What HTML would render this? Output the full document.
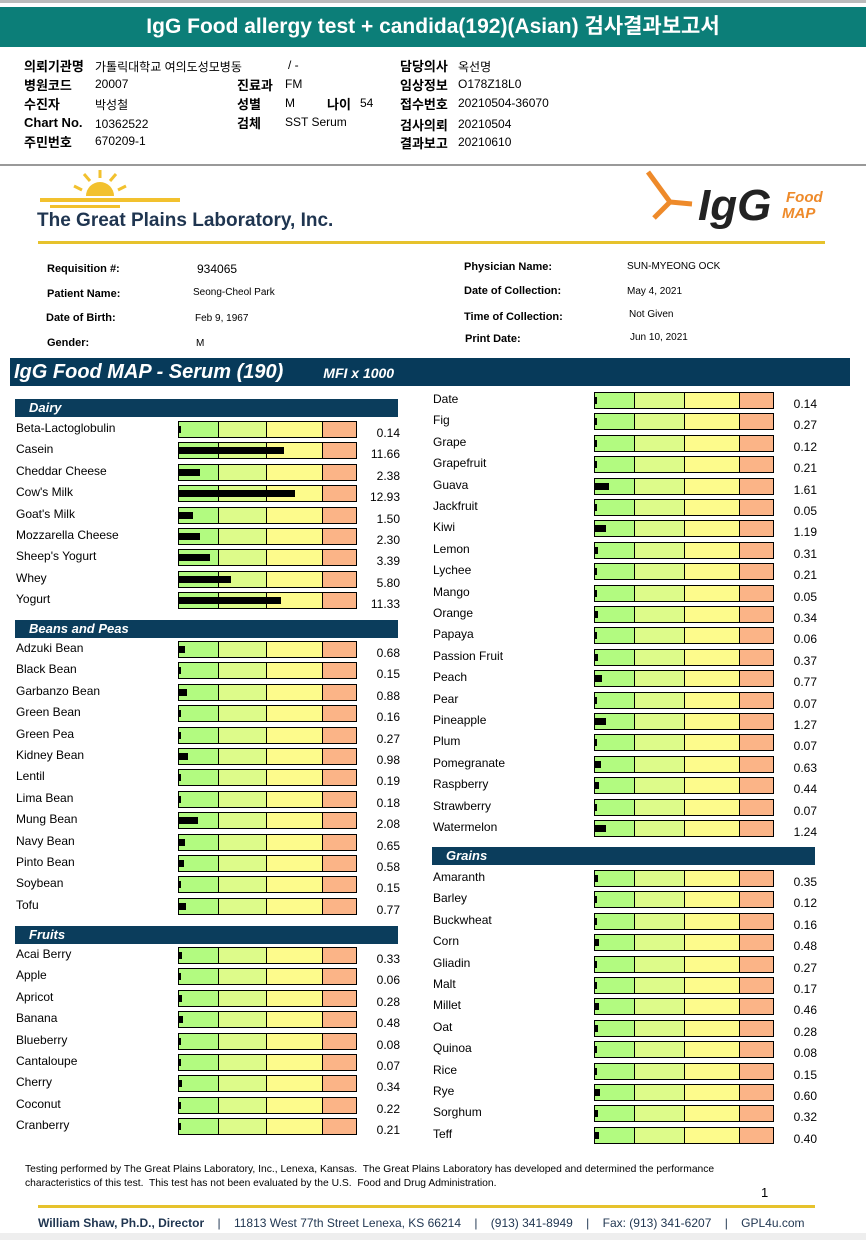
<!DOCTYPE html>
<html><head><meta charset="utf-8">
<style>
body{margin:0;width:866px;height:1240px;position:relative;background:#fff;font-family:"Liberation Sans","Noto Sans CJK KR",sans-serif;overflow:hidden}
.a{position:absolute;white-space:nowrap}
.k{font-weight:bold;font-size:13px}
.v{font-size:12px}
.pi{font-size:11px}
.sec{position:absolute;height:18px;background:#0b3d5c;color:#fff;font-weight:bold;font-style:italic;font-size:13px;line-height:18px;padding-left:14px;box-sizing:border-box}
.lbl{position:absolute;font-size:12px;color:#000;white-space:nowrap}
.val{position:absolute;font-size:12px;text-align:right;width:50px}
.bar{position:absolute;height:17px;border:1px solid #000;box-sizing:border-box;display:flex}
.bar div{height:100%;border-right:1px solid #000;box-sizing:border-box}
.fill{position:absolute;height:7px;background:#000}
</style></head><body>
<div class="a" style="left:0;top:0;width:866px;height:3px;background:#bbb"></div>
<div class="a" style="left:0;top:7px;width:866px;height:40px;background:#0c7e78;color:#fff;font-size:21px;font-weight:bold;text-align:center;line-height:40px">IgG Food allergy test + candida(192)(Asian) 검사결과보고서</div>
<div>
<div class="a k" style="left:24px;top:56px">의뢰기관명</div><div class="a v" style="left:95px;top:58px">가톨릭대학교 여의도성모병동</div><div class="a v" style="left:288px;top:58px">/ -</div>
<div class="a k" style="left:400px;top:56px">담당의사</div><div class="a v" style="left:458px;top:58px">옥선명</div>
<div class="a k" style="left:24px;top:75px">병원코드</div><div class="a v" style="left:95px;top:77px">20007</div>
<div class="a k" style="left:237px;top:75px">진료과</div><div class="a v" style="left:285px;top:77px">FM</div>
<div class="a k" style="left:400px;top:75px">임상정보</div><div class="a v" style="left:458px;top:77px">O178Z18L0</div>
<div class="a k" style="left:24px;top:94px">수진자</div><div class="a v" style="left:95px;top:96px">박성철</div>
<div class="a k" style="left:237px;top:94px">성별</div><div class="a v" style="left:285px;top:96px">M</div>
<div class="a k" style="left:327px;top:94px">나이</div><div class="a v" style="left:360px;top:96px">54</div>
<div class="a k" style="left:400px;top:94px">접수번호</div><div class="a v" style="left:458px;top:96px">20210504-36070</div>
<div class="a k" style="left:24px;top:115px">Chart No.</div><div class="a v" style="left:95px;top:117px">10362522</div>
<div class="a k" style="left:237px;top:113px">검체</div><div class="a v" style="left:285px;top:115px">SST Serum</div>
<div class="a k" style="left:400px;top:115px">검사의뢰</div><div class="a v" style="left:458px;top:117px">20210504</div>
<div class="a k" style="left:24px;top:132px">주민번호</div><div class="a v" style="left:95px;top:134px">670209-1</div>
<div class="a k" style="left:400px;top:133px">결과보고</div><div class="a v" style="left:458px;top:135px">20210610</div>
</div>
<div class="a" style="left:0;top:164px;width:866px;height:2px;background:#999"></div>
<svg class="a" style="left:36px;top:168px" width="150" height="42">
<path d="M50 28 A14 14 0 0 1 78 28 Z" fill="#f2c12e"/>
<g stroke="#f2c12e" stroke-width="3"><line x1="64" y1="10" x2="64" y2="2"/><line x1="54" y1="13" x2="48" y2="6"/><line x1="74" y1="13" x2="80" y2="6"/><line x1="46" y1="22" x2="38" y2="18"/><line x1="82" y1="22" x2="90" y2="18"/></g>
<rect x="4" y="30" width="140" height="4" fill="#f2c12e"/><rect x="14" y="37" width="70" height="3" fill="#f2c12e"/>
</svg>
<div class="a" style="left:37px;top:210px;font-size:19px;font-weight:bold;color:#1f3550">The Great Plains Laboratory, Inc.</div>
<svg class="a" style="left:640px;top:168px" width="190" height="62">
<path d="M8 4 L30 34 L52 36 M30 34 L14 50" stroke="#ee8a2a" stroke-width="5" fill="none"/>
<text x="58" y="52" font-family="Liberation Sans" font-weight="bold" font-style="italic" font-size="44" fill="#222">IgG</text>
<text x="146" y="34" font-family="Liberation Sans" font-weight="bold" font-style="italic" font-size="15" fill="#ee8a2a">Food</text>
<text x="142" y="50" font-family="Liberation Sans" font-weight="bold" font-style="italic" font-size="15" fill="#ee8a2a">MAP</text>
</svg>
<div class="a" style="left:38px;top:241px;width:787px;height:3px;background:#e6c22c"></div>
<div>
<div class="a pi" style="left:47px;top:263px;font-weight:bold">Requisition #:</div><div class="a" style="left:197px;top:262px;font-size:12px">934065</div>
<div class="a pi" style="left:47px;top:288px;font-weight:bold">Patient Name:</div><div class="a" style="left:193px;top:287px;font-size:10px">Seong-Cheol Park</div>
<div class="a pi" style="left:46px;top:312px;font-weight:bold">Date of Birth:</div><div class="a" style="left:195px;top:313px;font-size:10px">Feb 9, 1967</div>
<div class="a pi" style="left:47px;top:337px;font-weight:bold">Gender:</div><div class="a" style="left:196px;top:338px;font-size:10px">M</div>
<div class="a pi" style="left:464px;top:261px;font-weight:bold">Physician Name:</div><div class="a" style="left:627px;top:261px;font-size:10px">SUN-MYEONG OCK</div>
<div class="a pi" style="left:464px;top:285px;font-weight:bold">Date of Collection:</div><div class="a" style="left:627px;top:286px;font-size:10px">May 4, 2021</div>
<div class="a pi" style="left:464px;top:311px;font-weight:bold">Time of Collection:</div><div class="a" style="left:629px;top:309px;font-size:10px">Not Given</div>
<div class="a pi" style="left:465px;top:333px;font-weight:bold">Print Date:</div><div class="a" style="left:630px;top:332px;font-size:10px">Jun 10, 2021</div>
</div>
<div class="a" style="left:10px;top:358px;width:840px;height:28px;background:#073a5a;color:#fff;font-style:italic;font-weight:bold;line-height:28px">
<span style="font-size:20px;margin-left:4px">IgG Food MAP - Serum (190)</span><span style="font-size:14px;margin-left:40px">MFI x 1000</span></div>
<div id="chart"></div>
<div class="a" style="left:25px;top:1163px;font-size:10.3px;line-height:14px">Testing performed by The Great Plains Laboratory, Inc., Lenexa, Kansas.&nbsp; The Great Plains Laboratory has developed and determined the performance<br>characteristics of this test.&nbsp; This test has not been evaluated by the U.S.&nbsp; Food and Drug Administration.</div>
<div class="a" style="left:761px;top:1185px;font-size:13px">1</div>
<div class="a" style="left:38px;top:1205px;width:777px;height:3px;background:#e6c22c"></div>
<div class="a" style="left:38px;top:1216px;font-size:12px;color:#1f3550"><b>William Shaw, Ph.D., Director</b>&nbsp;&nbsp;&nbsp;&nbsp;|&nbsp;&nbsp;&nbsp;&nbsp;11813 West 77th Street Lenexa, KS 66214&nbsp;&nbsp;&nbsp;&nbsp;|&nbsp;&nbsp;&nbsp;&nbsp;(913) 341-8949&nbsp;&nbsp;&nbsp;&nbsp;|&nbsp;&nbsp;&nbsp;&nbsp;Fax: (913) 341-6207&nbsp;&nbsp;&nbsp;&nbsp;|&nbsp;&nbsp;&nbsp;&nbsp;GPL4u.com</div>
<div class="a" style="left:0;top:1233px;width:866px;height:7px;background:#eee"></div>
<script>
const dairyFoods=["Beta-Lactoglobulin","Casein","Cheddar Cheese","Cow's Milk","Goat's Milk","Mozzarella Cheese","Sheep's Yogurt","Whey","Yogurt"];
const dairyValues=[0.14,11.66,2.38,12.93,1.50,2.30,3.39,5.80,11.33];
const beanFoods=["Adzuki Bean","Black Bean","Garbanzo Bean","Green Bean","Green Pea","Kidney Bean","Lentil","Lima Bean","Mung Bean","Navy Bean","Pinto Bean","Soybean","Tofu"];
const beanValues=[0.68,0.15,0.88,0.16,0.27,0.98,0.19,0.18,2.08,0.65,0.58,0.15,0.77];
const fruitFoodsA=["Acai Berry","Apple","Apricot","Banana","Blueberry","Cantaloupe","Cherry","Coconut","Cranberry"];
const fruitValuesA=[0.33,0.06,0.28,0.48,0.08,0.07,0.34,0.22,0.21];
const fruitFoodsB=["Date","Fig","Grape","Grapefruit","Guava","Jackfruit","Kiwi","Lemon","Lychee","Mango","Orange","Papaya","Passion Fruit","Peach","Pear","Pineapple","Plum","Pomegranate","Raspberry","Strawberry","Watermelon"];
const fruitValuesB=[0.14,0.27,0.12,0.21,1.61,0.05,1.19,0.31,0.21,0.05,0.34,0.06,0.37,0.77,0.07,1.27,0.07,0.63,0.44,0.07,1.24];
const grainFoods=["Amaranth","Barley","Buckwheat","Corn","Gliadin","Malt","Millet","Oat","Quinoa","Rice","Rye","Sorghum","Teff"];
const grainValues=[0.35,0.12,0.16,0.48,0.27,0.17,0.46,0.28,0.08,0.15,0.60,0.32,0.40];
const PX_PER_UNIT=9.0, STEP=21.4;
const chart=document.getElementById('chart');
function xScale(v){return Math.max(2,v*PX_PER_UNIT);}
function header(name,x,y,w,key){
  const h=document.createElement('div');h.className='sec';
  h.style.left=x+'px';h.style.top=y+'px';h.style.width=w+'px';h.textContent=name;
  
  
  chart.appendChild(h);
}
function rows(foods,vals,col,y0,key){
  const lx=col?433:16, bx=col?594:178, bw=col?180:179, vx=col?767:350;
  const segs=col?[40,50,55,35]:[40,48,56,35];
  const cols=['#b2fb80','#ddfb8a','#fdfb8c','#fbb487'];
  foods.forEach((f,i)=>{
    const cy=y0+i*STEP;
    const l=document.createElement('div');l.className='lbl';l.textContent=f;
    l.style.left=lx+'px';l.style.top=(cy-8)+'px';
    
    
    chart.appendChild(l);
    const b=document.createElement('div');b.className='bar';
    b.style.left=bx+'px';b.style.top=(cy-8)+'px';b.style.width=bw+'px';
    
    
    segs.forEach((s,j)=>{const d=document.createElement('div');d.style.width=s+'px';d.style.background=cols[j];if(j==3)d.style.borderRight='none';d.style.flex=j==3?'1':'none';b.appendChild(d);});
    chart.appendChild(b);
    const fl=document.createElement('div');fl.className='fill';
    fl.style.left=(bx+1)+'px';fl.style.top=(cy-3)+'px';fl.style.width=xScale(vals[i])+'px';
    
    
    chart.appendChild(fl);
    const v=document.createElement('div');v.className='val';v.textContent=vals[i].toFixed(2);
    v.style.left=vx+'px';v.style.top=(cy-3)+'px';
    
    
    chart.appendChild(v);
  });
}
header('Dairy',15,399,383,'dairy-header');
rows(dairyFoods,dairyValues,0,429,'dairy');
header('Beans and Peas',15,620,383,'beans-header');
rows(beanFoods,beanValues,0,649,'beans');
header('Fruits',15,926,383,'fruits-header');
rows(fruitFoodsA,fruitValuesA,0,955,'fruits');
rows(fruitFoodsB,fruitValuesB,1,400,'fruits-cont');
header('Grains',432,847,383,'grains-header');
rows(grainFoods,grainValues,1,878,'grains');
</script>
</body></html>
